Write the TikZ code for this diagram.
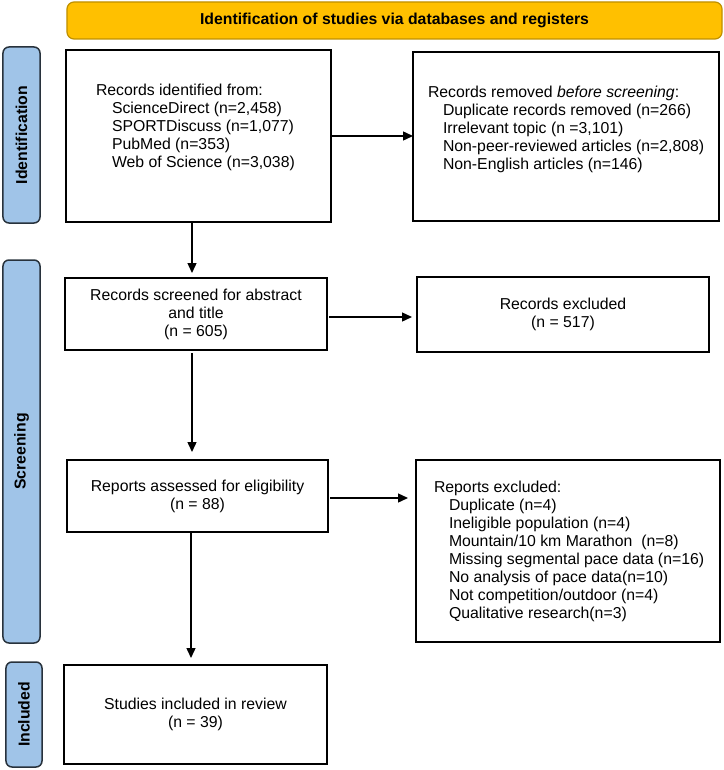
\documentclass[tikz,border=0pt]{standalone}
\usepackage{fontspec}
\setmainfont{Liberation Sans}
\usetikzlibrary{arrows.meta}
\definecolor{hdrfill}{RGB}{255,192,0}
\definecolor{hdrdraw}{RGB}{191,144,0}
\definecolor{barfill}{RGB}{160,196,232}
\definecolor{bardraw}{RGB}{40,50,60}
\begin{document}
\begin{tikzpicture}[x=1bp,y=-1bp,
  every node/.style={inner sep=0pt, outer sep=0pt},
  txt/.style={font=\fontsize{15.8bp}{18bp}\selectfont},
  box/.style={draw=black, line width=1.2bp, fill=white, align=center, txt},
  lefttxt/.style={txt, align=left, anchor=north west},
  bar/.style={draw=bardraw, fill=barfill, line width=1.5bp, rounded corners=6bp},
  bartxt/.style={font=\bfseries\fontsize{15.8bp}{18bp}\selectfont, rotate=90},
  arr/.style={line width=1.4bp, -{Triangle[length=10bp,width=9bp]}},
]
\useasboundingbox (0,0) rectangle (724,770);
% header
\node[draw=hdrdraw, fill=hdrfill, line width=1.2bp, rounded corners=7bp,
  minimum width=655bp, minimum height=37bp,
  font=\bfseries\fontsize{15.8bp}{18bp}\selectfont] (hdr) at (394.5,20.5)
  {Identification of studies via databases and registers};
% side bars
\node[bar, minimum width=37bp, minimum height=176bp] (barI) at (21.5,135) {};
\node[bartxt] (barItxt) at (barI.center) {Identification};
\node[bar, minimum width=37bp, minimum height=383bp] (barS) at (21.5,451.5) {};
\node[bartxt] (barStxt) at (barS.center) {Screening};
\node[bar, minimum width=36bp, minimum height=105bp] (barN) at (24,714.5) {};
\node[bartxt] (barNtxt) at (barN.center) {Included};
% boxes
\node[box, minimum width=265bp, minimum height=172bp] (b1) at (198.5,136) {};
\node[lefttxt] (t1) at (96,84.2) {Records identified from:\\
  \hspace*{16bp}ScienceDirect (n=2,458)\\
  \hspace*{16bp}SPORTDiscuss (n=1,077)\\
  \hspace*{16bp}PubMed (n=353)\\
  \hspace*{16bp}Web of Science (n=3,038)};
\node[box, minimum width=306bp, minimum height=169bp] (b2) at (566,136.5) {};
\node[lefttxt] (t2) at (428,86.2) {Records removed \emph{before screening}:\\
  \hspace*{15bp}Duplicate records removed (n=266)\\
  \hspace*{15bp}Irrelevant topic (n =3,101)\\
  \hspace*{15bp}Non-peer-reviewed articles (n=2,808)\\
  \hspace*{15bp}Non-English articles (n=146)};
\node[box, minimum width=262bp, minimum height=72bp] (b3) at (196,314)
  {Records screened for abstract\\and title\\(n = 605)};
\node[box, minimum width=292bp, minimum height=75bp] (b4) at (563,314.5)
  {Records excluded\\(n = 517)};
\node[box, minimum width=261bp, minimum height=72bp] (b5) at (197.5,496)
  {Reports assessed for eligibility\\(n = 88)};
\node[box, minimum width=304bp, minimum height=182bp] (b6) at (568,551) {};
\node[lefttxt] (t6) at (434,481.2) {Reports excluded:\\
  \hspace*{15bp}Duplicate (n=4)\\
  \hspace*{15bp}Ineligible population (n=4)\\
  \hspace*{15bp}Mountain/10 km Marathon~ (n=8)\\
  \hspace*{15bp}Missing segmental pace data (n=16)\\
  \hspace*{15bp}No analysis of pace data(n=10)\\
  \hspace*{15bp}Not competition/outdoor (n=4)\\
  \hspace*{15bp}Qualitative research(n=3)};
\node[box, minimum width=263bp, minimum height=99bp] (b7) at (195.5,714.5)
  {Studies included in review\\(n = 39)};
% connectors
\coordinate (vx) at (192,0);
\coordinate (vy) at (191,0);
\draw[arr] (b1.east) -- (b1.east -| b2.west);
\draw[arr, shorten <=2bp, shorten >=5bp] ([yshift=-3bp]b3.east) -- ([yshift=-3bp]b3.east -| b4.west);
\draw[arr, shorten <=2bp, shorten >=8bp] ([yshift=-2bp]b5.east) -- ([yshift=-2bp]b5.east -| b6.west);
\draw[arr, shorten >=5bp] (b1.south -| vx) -- (b3.north -| vx);
\draw[arr, shorten <=3bp, shorten >=8bp] (b3.south -| vx) -- (b5.north -| vx);
\draw[arr, shorten >=7bp] (b5.south -| vy) -- (b7.north -| vy);
\end{tikzpicture}
\end{document}
